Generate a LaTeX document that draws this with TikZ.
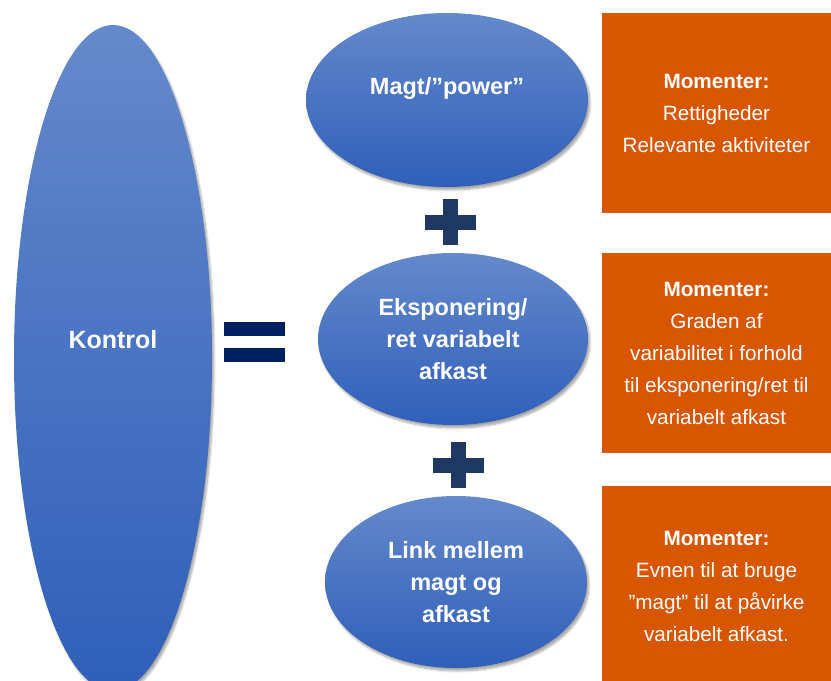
\documentclass[tikz,border=0pt]{standalone}
\usepackage{fontspec}
\setmainfont{Liberation Sans}
\usetikzlibrary{shapes.geometric,shadows.blur}

\definecolor{bluetop}{HTML}{6489CC}
\definecolor{bluebot}{HTML}{2F5FB9}
\definecolor{momorange}{HTML}{D95600}
\definecolor{plusnavy}{HTML}{203864}
\definecolor{eqnavy}{HTML}{002060}

\tikzset{
  blob/.style={ellipse, inner sep=0pt, top color=bluetop, bottom color=bluebot,
    text=white, align=center, font=\fontsize{23.5bp}{32bp}\selectfont\bfseries,
    blur shadow={shadow xshift=2pt, shadow yshift=-3pt, shadow blur steps=6, shadow opacity=35}},
  momentbox/.style={rectangle, fill=momorange, text=white, inner sep=0pt,
    minimum width=229bp, minimum height=200bp, align=center,
    font=\fontsize{20.7bp}{32bp}\selectfont}
}

\begin{document}
\begin{tikzpicture}[x=1bp,y=-1bp]

      \useasboundingbox (0,0) rectangle (831,681);

      % left side
      \node[blob, minimum width=198bp, minimum height=666bp,
            font=\fontsize{25bp}{32bp}\selectfont\bfseries] (kontrol) at (113,358) {\raisebox{18bp}[\height][\depth]{Kontrol}};

      \begin{scope}[fill=eqnavy]
        \fill (224,322) rectangle (285,336);
        \fill (224,348) rectangle (285,362);
      \end{scope}

      % the three parts
      \begin{scope}[every node/.style={blob}]
        \node[minimum width=282bp, minimum height=174bp] (magt) at (447,100) {\raisebox{12bp}[\height][\depth]{Magt/”power”}};
        \node[minimum width=270bp, minimum height=172bp] (eksp) at (453,339) {Eksponering/\\ret variabelt\\afkast};
        \node[minimum width=262bp, minimum height=172bp] (link) at (456,582) {Link mellem\\magt og\\afkast};
      \end{scope}

      \begin{scope}[fill=plusnavy]
        \fill (425,215) rectangle (476,230);
        \fill (443,199) rectangle (458,245);
        \fill (433,458) rectangle (484,473);
        \fill (451,442) rectangle (466,488);
      \end{scope}

      % momenter
      \begin{scope}[every node/.style={momentbox}]
        \node (mom1) at (716.5,113) {\textbf{Momenter:}\\Rettigheder\\Relevante aktiviteter};
        \node (mom2) at (716.5,353) {\textbf{Momenter:}\\Graden af\\variabilitet i forhold\\til eksponering/ret til\\variabelt afkast};
        \node (mom3) at (716.5,586) {\textbf{Momenter:}\\Evnen til at bruge\\”magt” til at påvirke\\variabelt afkast.};
      \end{scope}

    \end{tikzpicture}
\end{document}
